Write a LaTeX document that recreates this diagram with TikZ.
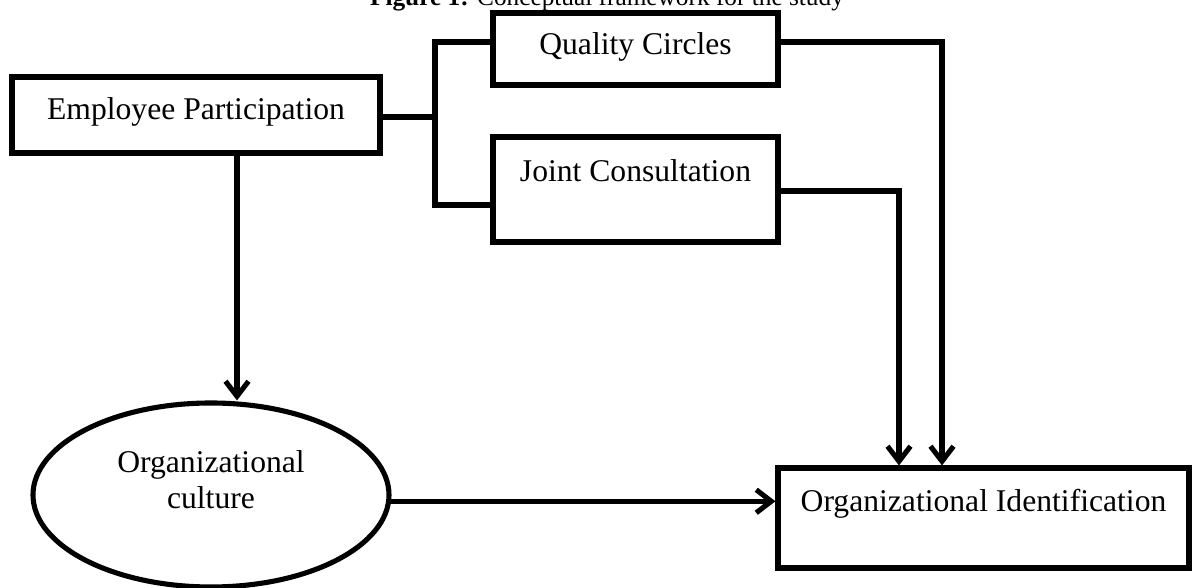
\documentclass[tikz,border=0pt]{standalone}
\usepackage{fontspec}
\setmainfont{Liberation Serif}
\usetikzlibrary{arrows.meta,shapes.geometric}
\tikzset{
  box/.style={draw, line width=2.9pt, rectangle, inner sep=0pt, anchor=base,
    font=\fontsize{18}{21}\selectfont},
  ell/.style={draw, line width=2.9pt, ellipse, inner sep=0pt,
    minimum width=7.12cm, minimum height=3.68cm},
  wire/.style={line width=2.9pt},
  conn/.style={wire, -{Straight Barb[length=0.3cm,width=0.46cm]}}
}
\begin{document}
\begin{tikzpicture}
  \useasboundingbox (0,0) rectangle (23.86,11.76);
  \node[anchor=base, font=\fontsize{14.4}{17}\selectfont] (title) at (12.14,11.64)
    {\textbf{Figure 1:} Conceptual framework for the study};
  \node[box, minimum width=7.36cm, text height=0.86cm, text depth=0.66cm] (ep)
    at (3.92,9.36) {Employee Participation};
  \node[box, minimum width=5.70cm, text height=0.84cm, text depth=0.60cm] (qc)
    at (12.71,10.66) {Quality Circles};
  \node[box, minimum width=5.70cm, text height=0.90cm, text depth=1.20cm] (jc)
    at (12.71,8.12) {Joint Consultation};
  \node[box, minimum width=8.22cm, text height=0.88cm, text depth=1.12cm] (oi)
    at (19.67,1.52) {Organizational Identification};
  \node[ell] (oc) at (4.22,1.86) {};
  \node[align=center, font=\fontsize{18}{20.5}\selectfont] (octext) at (4.22,2.16)
    {Organizational\\culture};
  \coordinate (fork) at (8.70,9.42);
  \coordinate (qcin) at (8.70,10.92);
  \coordinate (jcin) at (8.70,7.66);
  \coordinate (qcturn) at (18.84,10.92);
  \coordinate (jcturn) at (17.98,7.94);
  \coordinate (epdown) at (4.74,8.70);
  \begin{scope}[wire]
    \draw (ep.east |- fork) -- (fork);
    \draw (qc.west |- qcin) -- (qcin) -- (jcin) -- (jc.west |- jcin);
  \end{scope}
  \begin{scope}[conn]
    \draw (qc.east |- qcturn) -- (qcturn) -- (qcturn |- oi.north);
    \draw (jc.east |- jcturn) -- (jcturn) -- (jcturn |- oi.north);
    \draw (ep.south -| epdown) -- (epdown |- oc.north);
    \draw (oc.-2) -- (oc.-2 -| oi.west);
  \end{scope}
\end{tikzpicture}
\end{document}
